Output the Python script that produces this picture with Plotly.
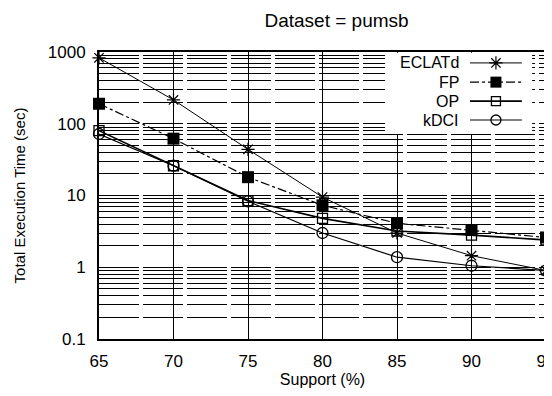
import plotly.graph_objects as go

support = [65, 70, 75, 80, 85, 90, 95]
eclatd = [830, 215, 44, 9.5, 3.0, 1.45, 0.9]
fp = [190, 62, 18, 7.3, 4.1, 3.3, 2.6]
op = [80, 26, 8.5, 4.8, 3.2, 2.8, 2.4]
kdci = [72, 26, 8.3, 3.0, 1.38, 1.05, 0.9]

series_names = ["ECLATd", "FP", "OP", "kDCI"]
x_ticks = [65, 70, 75, 80, 85, 90, 95]
y_ticks = [0.1, 1, 10, 100, 1000]
y_ticklabels = ["0.1", "1", "10", "100", "1000"]

styles = [
    dict(line=dict(color="black", width=1),
         marker=dict(symbol="asterisk-open", size=11, color="black", line=dict(color="black", width=1.2))),
    dict(line=dict(color="black", width=1.2, dash="dashdot"),
         marker=dict(symbol="square", size=12, color="black")),
    dict(line=dict(color="black", width=1.6),
         marker=dict(symbol="square-open", size=10, color="black", line=dict(width=1.3))),
    dict(line=dict(color="black", width=1.2),
         marker=dict(symbol="circle-open", size=11, color="black", line=dict(width=1.3))),
]
key_marker_sizes = [11, 11, 9, 10]

fig = go.Figure()
for name, vals, st in zip(series_names, [eclatd, fp, op, kdci], styles):
    fig.add_trace(go.Scatter(x=support, y=vals, name=name, mode="lines+markers",
                             line=st["line"], marker=st["marker"], cliponaxis=False,
                             showlegend=False))

# custom legend box (text on the left, key on the right) on an overlay axis
fig.add_trace(go.Scatter(x=[0.640, 0.969, 0.969, 0.640, 0.640],
                         y=[0.714, 0.714, 0.997, 0.997, 0.714],
                         mode="lines", fill="toself", fillcolor="white", line=dict(width=0),
                         xaxis="x2", yaxis="y2", showlegend=False, hoverinfo="skip"))
row_y = [0.962, 0.895, 0.829, 0.763]
for name, st, ry, ms in zip(series_names, styles, row_y, key_marker_sizes):
    mk = dict(st["marker"])
    mk["size"] = ms
    fig.add_trace(go.Scatter(x=[0.830, 0.946], y=[ry, ry], mode="lines", line=st["line"],
                             xaxis="x2", yaxis="y2", showlegend=False, hoverinfo="skip"))
    fig.add_trace(go.Scatter(x=[0.888], y=[ry], mode="markers", marker=mk,
                             xaxis="x2", yaxis="y2", showlegend=False, hoverinfo="skip"))
    fig.add_annotation(x=0.808, y=ry, xref="paper", yref="paper", text=name,
                       showarrow=False, xanchor="right", yanchor="middle", borderpad=0,
                       font=dict(size=16, color="black"))

fig.update_layout(
    width=544, height=388,
    margin=dict(l=91, r=6, t=44, b=57, autoexpand=False),
    paper_bgcolor="white", plot_bgcolor="white",
    font=dict(family="Liberation Sans, Arial, sans-serif", color="black", size=17),
    showlegend=False,
    title=dict(text="Dataset = pumsb", x=0.604, xanchor="center", y=0.969, yanchor="middle",
               font=dict(size=19)),
    xaxis=dict(range=[65, 95], tickvals=x_ticks, showgrid=True, gridcolor="black", gridwidth=1.2,
               showline=True, linecolor="black", linewidth=1.8, mirror=True, automargin=False,
               ticks="", zeroline=False, ticklabelstandoff=6, tickfont=dict(size=17),
               ticklabeloverflow="allow",
               title=dict(text="Support (%)", font=dict(size=16), standoff=3)),
    yaxis=dict(type="log", range=[-1, 3], tickvals=y_ticks, ticktext=y_ticklabels,
               showgrid=True, gridcolor="black", gridwidth=1.2, griddash="40px,4px",
               minor=dict(showgrid=True, gridcolor="black", gridwidth=1.1, dtick="D1", ticks="",
                          griddash="40px,4px"),
               showline=True, linecolor="black", linewidth=1.8, mirror=True, automargin=False,
               ticks="", zeroline=False, ticklabelstandoff=8, tickfont=dict(size=17),
               ticklabeloverflow="allow",
               title=dict(text="Total Execution Time (sec)", font=dict(size=15), standoff=19)),
    xaxis2=dict(overlaying="x", range=[0, 1], visible=False, fixedrange=True, automargin=False),
    yaxis2=dict(overlaying="y", range=[0, 1], visible=False, fixedrange=True, automargin=False),
)

fig.write_html("out.html")
